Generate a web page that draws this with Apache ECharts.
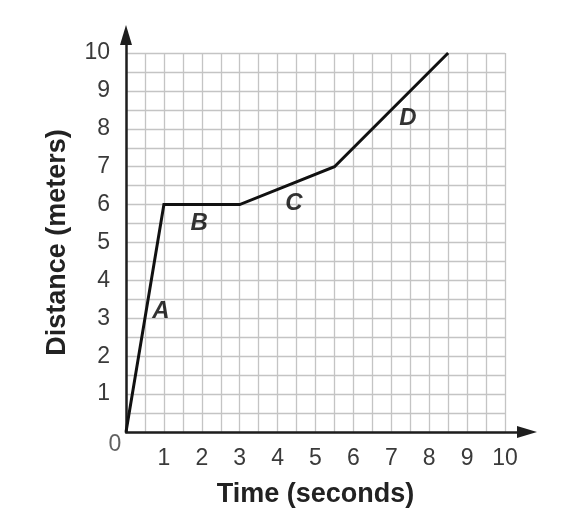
<!DOCTYPE html>
<html><head><meta charset="utf-8">
<script src="https://cdn.jsdelivr.net/npm/echarts@6/dist/echarts.min.js"></script>
<style>html,body{margin:0;padding:0;background:#fff}#c{width:575px;height:531px}</style>
</head><body><div id="c"></div>
<script>
// Data
const timeVals = [0, 1, 3, 5.5, 8.5];
const distVals = [0, 6, 6, 7, 10];
const segNames = ['A', 'B', 'C', 'D'];
const segX = [0.92, 1.93, 4.43, 7.44];
const segY = [3.17, 5.51, 6.02, 8.28];
const xTickLabels = ['', '1', '2', '3', '4', '5', '6', '7', '8', '9', '10'];
const yTickLabels = ['', '1', '2', '3', '4', '5', '6', '7', '8', '9', '10'];
const originLabel = '0';
const xTitle = 'Time (seconds)';
const yTitle = 'Distance (meters)';

const FONT = '"Liberation Sans", Arial, Helvetica, sans-serif';
const chart = echarts.init(document.getElementById('c'), null, {renderer: 'canvas'});
const gridColor = '#c4c4c4';
const axisColor = '#1e1e1e';

const option = {
  backgroundColor: '#fff',
  animation: false,
  textStyle: {fontFamily: FONT},
  grid: [
    {left: 126, top: 53, width: 379, height: 379, containLabel: false},
    {left: 126, top: 35, width: 401, height: 397, containLabel: false}
  ],
  xAxis: [
    {
      type: 'value', gridIndex: 0, min: 0, max: 10, interval: 1,
      name: xTitle, nameLocation: 'middle', nameGap: 49,
      nameTextStyle: {fontFamily: FONT, fontSize: 27, fontWeight: 'bold', color: '#222'},
      axisLine: {show: false}, axisTick: {show: false},
      axisLabel: {show: true, margin: 15, fontSize: 23, color: '#3a3a3a', fontFamily: FONT,
        formatter: v => xTickLabels[Math.round(v)] || ''},
      splitLine: {show: true, lineStyle: {color: gridColor, width: 1.3}},
      minorTick: {show: false, splitNumber: 2},
      minorSplitLine: {show: true, lineStyle: {color: gridColor, width: 1.3}}
    },
    {
      type: 'value', gridIndex: 1, min: 0, max: 10,
      axisLine: {show: true, symbol: ['none', 'triangle'], symbolSize: [12, 20],
        lineStyle: {color: axisColor, width: 2.5}},
      axisTick: {show: false}, axisLabel: {show: false}, splitLine: {show: false}
    }
  ],
  yAxis: [
    {
      type: 'value', gridIndex: 0, min: 0, max: 10, interval: 1,
      name: yTitle, nameLocation: 'middle', nameGap: 55, nameRotate: 90,
      nameTextStyle: {fontFamily: FONT, fontSize: 27, fontWeight: 'bold', color: '#222'},
      axisLine: {show: false}, axisTick: {show: false},
      axisLabel: {show: true, margin: 16, fontSize: 23, color: '#3a3a3a', fontFamily: FONT,
        formatter: v => yTickLabels[Math.round(v)] || ''},
      splitLine: {show: true, lineStyle: {color: gridColor, width: 1.3}},
      minorTick: {show: false, splitNumber: 2},
      minorSplitLine: {show: true, lineStyle: {color: gridColor, width: 1.3}}
    },
    {
      type: 'value', gridIndex: 1, min: 0, max: 10,
      axisLine: {show: true, symbol: ['none', 'triangle'], symbolSize: [12, 20],
        lineStyle: {color: axisColor, width: 2.5}},
      axisTick: {show: false}, axisLabel: {show: false}, splitLine: {show: false}
    }
  ],
  series: [
    {
      type: 'line', xAxisIndex: 0, yAxisIndex: 0,
      data: timeVals.map((t, i) => [t, distVals[i]]),
      showSymbol: false, symbol: 'none', z: 5,
      lineStyle: {color: '#111', width: 3, join: 'miter'},
      silent: true
    },
    {
      type: 'scatter', xAxisIndex: 0, yAxisIndex: 0,
      data: segNames.map((n, i) => ({value: [segX[i], segY[i]], name: n})),
      symbolSize: 0, z: 6, silent: true,
      label: {show: true, position: 'inside', formatter: p => p.name,
        fontFamily: FONT, fontSize: 24, fontWeight: 'bold', fontStyle: 'italic', color: '#000'}
    },
    {
      type: 'scatter', xAxisIndex: 0, yAxisIndex: 0,
      data: [{value: [0, 0], name: originLabel}],
      symbolSize: 0, z: 6, silent: true,
      label: {show: true, position: 'inside', offset: [-11, 13], formatter: p => p.name,
        fontFamily: FONT, fontSize: 23, color: '#3a3a3a'}
    }
  ]
};
chart.setOption(option);
</script>
</body></html>
